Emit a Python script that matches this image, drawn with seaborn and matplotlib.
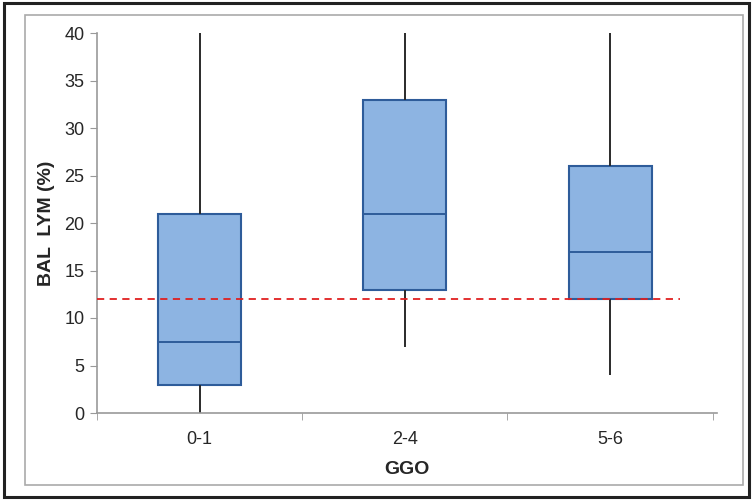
import numpy as np
import pandas as pd
import seaborn as sns
import matplotlib.pyplot as plt
from matplotlib.patches import Rectangle

# GGO 점수 그룹별 BAL 림프구 비율 (최소, Q1, 중앙값, Q3, 최대)
groups = ['0-1', '2-4', '5-6']
lo = [0, 7, 4]
q1 = [3, 13, 12]
med = [7.5, 21, 17]
q3 = [21, 33, 26]
hi = [40, 40, 40]
cutoff = 12

# 5개 값이면 사분위수가 그대로 재현된다
rows = []
for g, a, b, c, d, e in zip(groups, lo, q1, med, q3, hi):
    for v in (a, b, c, d, e):
        rows.append({'GGO': g, 'LYM': v})
df = pd.DataFrame(rows)

sns.set_style('white')
plt.rcParams['font.family'] = ['Liberation Sans', 'DejaVu Sans']

fig = plt.figure(figsize=(7.53, 5.0), dpi=100)
ax = fig.add_axes([0.1288, 0.174, 0.8232, 0.76])

edge = '#2E5C9A'
sns.boxplot(data=df, x='GGO', y='LYM', ax=ax, whis=np.inf, width=0.405,
            color='#8DB4E2', saturation=1,
            boxprops=dict(edgecolor=edge, linewidth=1.5),
            medianprops=dict(color=edge, linewidth=1.4),
            whiskerprops=dict(color='#2a2a2a', linewidth=1.4),
            capprops=dict(linewidth=0), showcaps=False)

ax.plot([-0.5, 2.34], [cutoff, cutoff], color='#E02020', ls=(0, (4, 3)), lw=1.3, zorder=5)

ax.set_xlim(-0.5, 2.52)
ax.set_ylim(0, 40)
ax.set_yticks(range(0, 41, 5))
ax.set_xticks([0, 1, 2])
ax.set_xticks([-0.5, 0.5, 1.5, 2.5], minor=True)
ax.tick_params(axis='x', which='major', length=0, pad=13, labelsize=13)
ax.tick_params(axis='x', which='minor', length=5, color='#999999', direction='out')
ax.tick_params(axis='y', length=5, color='#999999', direction='out', labelsize=13, pad=4)
ax.xaxis.set_tick_params(which='minor', bottom=True)
ax.yaxis.set_tick_params(left=True)

for s in ['top', 'right']:
    ax.spines[s].set_visible(False)
for s in ['left', 'bottom']:
    ax.spines[s].set_color('#999999')
    ax.spines[s].set_linewidth(1.2)

ax.set_xlabel('GGO', fontsize=14, fontweight='bold', labelpad=9)
ax.set_ylabel('BAL  LYM (%)', fontsize=14, fontweight='bold', labelpad=7)

# 바깥 테두리
fig.patches.append(Rectangle((25 / 753, 15 / 500), 718 / 753, 470 / 500, transform=fig.transFigure,
                             fill=False, edgecolor='#AAAAAA', linewidth=1.2))
fig.patches.append(Rectangle((4 / 753, 3 / 500), 745 / 753, 494 / 500, transform=fig.transFigure,
                             fill=False, edgecolor='#222222', linewidth=2.2))

fig.savefig('out.png', dpi=100)
